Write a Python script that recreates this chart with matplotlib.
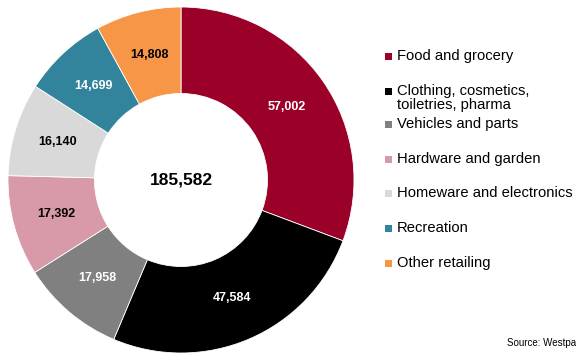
import matplotlib
matplotlib.use("Agg")
import matplotlib.pyplot as plt
from matplotlib.patches import Rectangle

plt.rcParams['font.family'] = ['Liberation Sans', 'DejaVu Sans']

categories = ["Food and grocery", "Clothing, cosmetics,\ntoiletries, pharma",
              "Vehicles and parts", "Hardware and garden",
              "Homeware and electronics", "Recreation", "Other retailing"]
values = [57002, 47584, 17958, 17392, 16140, 14699, 14808]
total_label = "185,582"
colors = ["#9B0029", "#000000", "#808080", "#D899A8", "#D9D9D9", "#31849B", "#F79646"]
label_colors = ["white", "white", "white", "black", "black", "white", "black"]

W, H = 576, 355
fig = plt.figure(figsize=(W / 100, H / 100), dpi=100)

# Doughnut
cx, cy, r = 181, 175, 173
ax = fig.add_axes([(cx - r) / W, (cy - r) / H, 2 * r / W, 2 * r / H])
wedges, texts = ax.pie(values, colors=colors, startangle=90, counterclock=False,
                       radius=1.0, wedgeprops=dict(width=0.5, edgecolor="white", linewidth=0.6),
                       labels=[f"{v:,}" for v in values], labeldistance=0.745)
for t, c in zip(texts, label_colors):
    t.set_color(c)
    t.set_fontweight("bold")
    t.set_fontsize(9)
    t.set_ha("center")
    t.set_va("center")
ax.text(0, 0, total_label, ha="center", va="center", fontsize=12.5, fontweight="bold")
ax.set_xlim(-1, 1)
ax.set_ylim(-1, 1)
ax.set_aspect("equal")
ax.axis("off")

# Legend
legend_y = [56, 98, 124, 159, 193, 228, 263]
fs = 10.6
for lab, col, y in zip(categories, colors, legend_y):
    if "\n" in lab:
        sq_y = 91
        fig.text(397 / W, 1 - 83.5 / H, lab, fontsize=fs, va="top", ha="left",
                 linespacing=1.0)
    else:
        sq_y = y
        fig.text(397 / W, 1 - y / H, lab, fontsize=fs, va="center", ha="left")
    s = 7
    fig.add_artist(Rectangle(((388 - s / 2) / W, 1 - (sq_y + s / 2) / H), s / W, s / H,
                             transform=fig.transFigure, facecolor=col, edgecolor="none"))

fig.text(507 / W, 1 - 343 / H, "Source: Westpac", fontsize=7, va="center", ha="left")

fig.savefig("out.png", dpi=100)
